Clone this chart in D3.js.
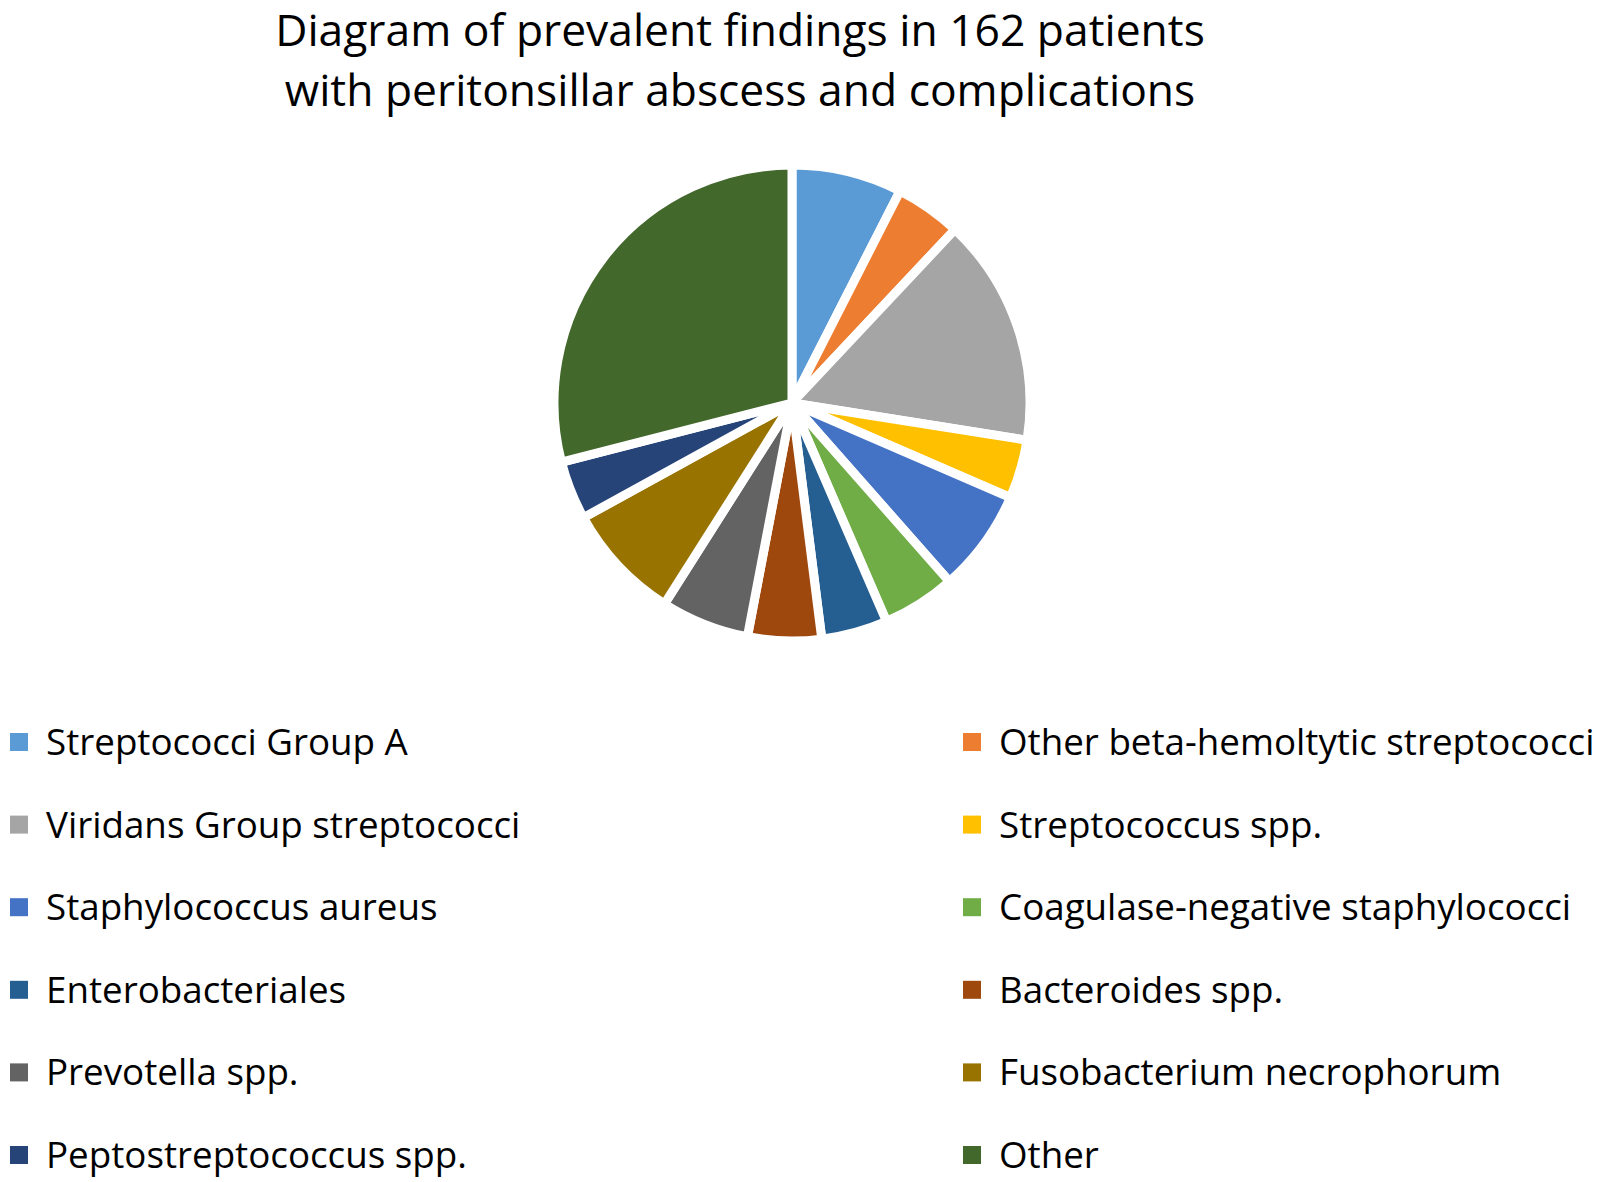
<!DOCTYPE html>
<meta charset="utf-8">
<style>
body { margin: 0; background: #fff; }
text { font-family: "Open Sans", "Noto Sans", sans-serif; fill: #000; }
</style>
<body>
<script src="https://cdnjs.cloudflare.com/ajax/libs/d3/7.8.5/d3.min.js"></script>
<script>
// findings
var categories = [
	"Streptococci Group A",
	"Other beta-hemoltytic streptococci",
	"Viridans Group streptococci",
	"Streptococcus spp.",
	"Staphylococcus aureus",
	"Coagulase-negative staphylococci",
	"Enterobacteriales",
	"Bacteroides spp.",
	"Prevotella spp.",
	"Fusobacterium necrophorum",
	"Peptostreptococcus spp.",
	"Other"
];
var counts = [15, 9, 31, 8, 14, 10, 9, 10, 12, 16, 8, 58];
var colors = ["#5b9bd5", "#ed7d31", "#a5a5a5", "#ffc000", "#4472c4", "#70ad47",
	"#255e91", "#9e480e", "#636363", "#997300", "#264478", "#43682b"];
var titleLines = ["Diagram of prevalent findings in 162 patients",
	"with peritonsillar abscess and complications"];

var w = 1598, h = 1182;
var cx = 792, cy = 403, r = 238;

var svg = d3.select("body").append("svg")
	.attr("width", w)
	.attr("height", h);

// shrink/grow a text so it covers a given width (Calibri is not installed)
function fitSize(str, width) {
	var t = svg.append("text").style("font-size", "40px").text(str);
	var len = t.node().getComputedTextLength();
	t.remove();
	return 40 * width / len;
}

var titleSize = fitSize(titleLines[0], 930);
svg.selectAll(".title")
	.data(titleLines)
	.enter().append("text")
	.attr("class", "title")
	.attr("x", 740)
	.attr("y", function(d, i) { return 46 + i * 60; })
	.attr("text-anchor", "middle")
	.style("font-size", titleSize + "px")
	.text(function(d) { return d; });

var color = d3.scaleOrdinal().domain(categories).range(colors);

var pie = d3.pie()
	.sort(null)
	.value(function(d, i) { return counts[i]; });

var arc = d3.arc().innerRadius(0).outerRadius(r);

svg.append("g")
	.attr("transform", "translate(" + cx + "," + cy + ")")
	.selectAll("path")
	.data(pie(categories))
	.enter().append("path")
	.attr("d", arc)
	.attr("fill", function(d) { return color(d.data); })
	.attr("stroke", "#fff")
	.attr("stroke-width", 9)
	.attr("stroke-linejoin", "miter");

// legend: two columns, filled row by row
var legendSize = fitSize(categories[0], 362);
var colX = d3.scaleOrdinal().domain([0, 1]).range([10, 963]);
var rowY = d3.scaleLinear().domain([0, 5]).range([742, 1155]);

var item = svg.selectAll(".legend")
	.data(categories)
	.enter().append("g")
	.attr("class", "legend")
	.attr("transform", function(d, i) {
		return "translate(" + colX(i % 2) + "," + rowY(Math.floor(i / 2)) + ")";
	});

item.append("rect")
	.attr("x", 0)
	.attr("y", -9)
	.attr("width", 18)
	.attr("height", 18)
	.attr("fill", function(d) { return color(d); });

item.append("text")
	.attr("x", 36)
	.attr("y", 13)
	.style("font-size", legendSize + "px")
	.text(function(d) { return d; });
</script>
</body>
